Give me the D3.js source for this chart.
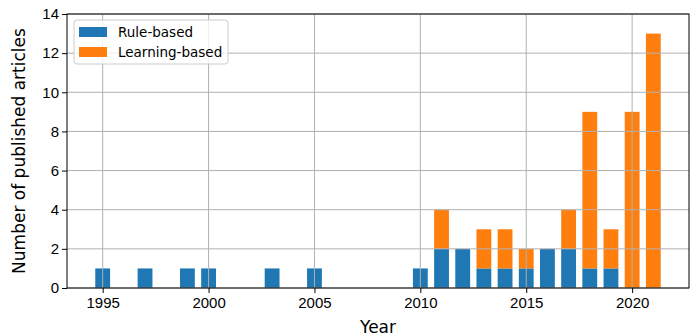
<!DOCTYPE html>
<html>
<head>
<meta charset="utf-8">
<script src="https://cdn.jsdelivr.net/npm/d3@7"></script>
<style>
  body { margin: 0; background: #fff; }
  svg { font-family: "DejaVu Sans", sans-serif; }
</style>
</head>
<body>
<svg id="chart" width="696" height="336"></svg>
<script>
// Articles per year, split by approach
const years =         [1995, 1997, 1999, 2000, 2003, 2005, 2010, 2011, 2012, 2013, 2014, 2015, 2016, 2017, 2018, 2019, 2020, 2021];
const ruleBased =     [1,    1,    1,    1,    1,    1,    1,    2,    2,    1,    1,    1,    2,    2,    1,    1,    0,    0];
const learningBased = [0,    0,    0,    0,    0,    0,    0,    2,    0,    2,    2,    1,    0,    2,    8,    2,    9,    13];
const xTicks = [1995, 2000, 2005, 2010, 2015, 2020];
const yTicks = [0, 2, 4, 6, 8, 10, 12, 14];

const blue = '#1f77b4';
const orange = '#ff7f0e';

const margin = { top: 14, right: 7, bottom: 48, left: 67 };
const width = 696 - margin.left - margin.right;
const height = 336 - margin.top - margin.bottom;

const svg = d3.select('#chart');
const g = svg.append('g').attr('transform', `translate(${margin.left},${margin.top})`);

const barW = 0.7;
const x = d3.scaleLinear()
    .domain([1993.315, 2022.685])
    .range([0, width]);
const y = d3.scaleLinear()
    .domain([0, 14])
    .range([height, 0]);

const rows = years.map((yr, i) => ({ year: yr, rule: ruleBased[i], learn: learningBased[i] }));

// Bars: rule-based at bottom, learning-based stacked on top
g.selectAll('.rule')
    .data(rows.filter(d => d.rule > 0))
    .join('rect')
    .attr('x', d => x(d.year - barW / 2))
    .attr('width', x(barW) - x(0))
    .attr('y', d => y(d.rule))
    .attr('height', d => y(0) - y(d.rule))
    .attr('fill', blue);

g.selectAll('.learn')
    .data(rows.filter(d => d.learn > 0))
    .join('rect')
    .attr('x', d => x(d.year - barW / 2))
    .attr('width', x(barW) - x(0))
    .attr('y', d => y(d.rule + d.learn))
    .attr('height', d => y(d.rule) - y(d.rule + d.learn))
    .attr('fill', orange);

// Grid on top of bars
g.append('g')
    .selectAll('line')
    .data(xTicks)
    .join('line')
    .attr('x1', d => x(d)).attr('x2', d => x(d))
    .attr('y1', 0).attr('y2', height)
    .attr('stroke', '#b0b0b0').attr('stroke-width', 1);

g.append('g')
    .selectAll('line')
    .data(yTicks)
    .join('line')
    .attr('x1', 0).attr('x2', width)
    .attr('y1', d => y(d)).attr('y2', d => y(d))
    .attr('stroke', '#b0b0b0').attr('stroke-width', 1);

// Axes
const xAxis = g.append('g')
    .attr('transform', `translate(0,${height})`)
    .call(d3.axisBottom(x).tickValues(xTicks).tickFormat(d3.format('d')).tickSize(5).tickPadding(4));
const yAxis = g.append('g')
    .call(d3.axisLeft(y).tickValues(yTicks).tickSize(5).tickPadding(3));

[xAxis, yAxis].forEach(a => {
    a.select('.domain').remove();
    a.selectAll('text').style('font-size', '15px').attr('fill', '#000');
    a.selectAll('line').attr('stroke', '#000');
});

// Frame
g.append('rect')
    .attr('width', width).attr('height', height)
    .attr('fill', 'none').attr('stroke', '#000').attr('stroke-width', 1);

// Axis labels
svg.append('text')
    .attr('x', margin.left + width / 2)
    .attr('y', 333)
    .attr('text-anchor', 'middle')
    .style('font-size', '17px')
    .text('Year');

svg.append('text')
    .attr('transform', `translate(25,${margin.top + height / 2}) rotate(-90)`)
    .attr('text-anchor', 'middle')
    .style('font-size', '17px')
    .text('Number of published articles');

// Legend
const legendItems = [
    { label: 'Rule-based', color: blue },
    { label: 'Learning-based', color: orange }
];
const legend = svg.append('g').attr('transform', 'translate(74,20)');
legend.append('rect')
    .attr('width', 154).attr('height', 44)
    .attr('rx', 3)
    .attr('fill', 'rgba(255,255,255,0.8)')
    .attr('stroke', '#cccccc');
legendItems.forEach((item, i) => {
    legend.append('rect')
        .attr('x', 5).attr('y', 7 + i * 20)
        .attr('width', 28).attr('height', 10)
        .attr('fill', item.color);
    legend.append('text')
        .attr('x', 44).attr('y', 17 + i * 20)
        .style('font-size', '13.5px')
        .text(item.label);
});
</script>
</body>
</html>
